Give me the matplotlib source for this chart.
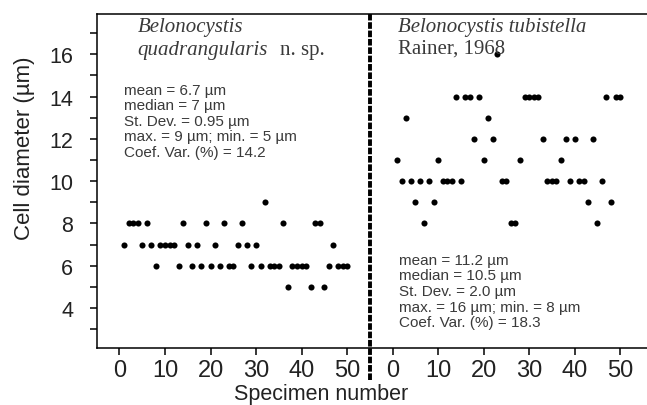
import numpy as np
import matplotlib.pyplot as plt
from matplotlib.ticker import MultipleLocator, FixedLocator

# specimen numbers 1..50 for both species
specimens = np.arange(1, 51)

# Belonocystis quadrangularis n. sp. (cell diameter, um)
quadrangularis = [7, 8, 8, 8, 7, 8, 7, 6, 7, 7,
                  7, 7, 6, 8, 7, 6, 7, 6, 8, 6,
                  7, 6, 8, 6, 6, 7, 8, 7, 6, 7,
                  6, 9, 6, 6, 6, 8, 5, 6, 6, 6,
                  6, 5, 8, 8, 5, 6, 7, 6, 6, 6]

# Belonocystis tubistella Rainer, 1968 (cell diameter, um)
tubistella = [11, 10, 13, 10, 9, 10, 8, 10, 9, 11,
              10, 10, 10, 14, 10, 14, 14, 12, 14, 11,
              13, 12, 16, 10, 10, 8, 8, 11, 14, 14,
              14, 14, 12, 10, 10, 10, 11, 12, 10, 12,
              10, 10, 9, 12, 8, 10, 14, 9, 14, 14]

x_ticks = [0, 10, 20, 30, 40, 50]
x_labels = ["0", "10", "20", "30", "40", "50"]
y_ticks = [4, 6, 8, 10, 12, 14, 16]

stats_left = ["mean = 6.7 µm", "median = 7 µm", "St. Dev. = 0.95 µm",
              "max. = 9 µm; min. = 5 µm", "Coef. Var. (%) = 14.2"]
stats_right = ["mean = 11.2 µm", "median = 10.5 µm", "St. Dev. = 2.0 µm",
               "max. = 16 µm; min. = 8 µm", "Coef. Var. (%) = 18.3"]

offset = 60  # second panel shifted along the same axis
text_col = "#3a3a3a"
sans = "Liberation Sans"
serif = "Liberation Serif"

fig = plt.figure(figsize=(6.47, 4.06), dpi=100)
ax = fig.add_axes([0.1495, 0.1397, 0.8505, 0.8233])

ax.plot(specimens, quadrangularis, "o", color="black", ms=4.4, mew=0)
ax.plot(specimens + offset, tubistella, "o", color="black", ms=4.4, mew=0)

ax.set_xlim(-5, 115.9)
ax.set_ylim(2.1, 17.9)

ax.xaxis.set_major_locator(FixedLocator(x_ticks + [t + offset for t in x_ticks]))
ax.set_xticklabels(x_labels + x_labels)
ax.yaxis.set_major_locator(FixedLocator(y_ticks))
ax.yaxis.set_minor_locator(MultipleLocator(1))
ax.tick_params(axis="both", which="both", direction="out", length=5, width=1.1,
               colors="black")
ax.tick_params(axis="x", which="minor", bottom=False)
ax.tick_params(axis="x", labelsize=17, pad=3)
ax.tick_params(axis="y", labelsize=15.5, pad=12)
for lab in ax.get_xticklabels() + ax.get_yticklabels():
    lab.set_fontfamily(sans)
    lab.set_color("#222222")

ax.spines["right"].set_visible(False)
for s in ["left", "top", "bottom"]:
    ax.spines[s].set_linewidth(1.1)

# dashed divider between the two species
ax.plot([55, 55], [-0.095, 1.0], transform=ax.get_xaxis_transform(),
        color="black", lw=2.8, dashes=(1.7, 0.45), clip_on=False)

ax.set_ylabel("Cell diameter (µm)", fontsize=16, family=sans, color="#222222")
ax.yaxis.label.set_va("center")
ax.yaxis.set_label_coords(-0.132, 0.6)
ax.set_xlabel("Specimen number", fontsize=15.5, family=sans, color="#222222")
ax.xaxis.label.set_va("center")
ax.xaxis.set_label_coords(0.407, -0.134)

# species names
ax.text(4, 17.3, "Belonocystis", family=serif, style="italic", fontsize=15,
        color=text_col, va="center")
ax.text(4, 16.2, "quadrangularis", family=serif, style="italic", fontsize=15,
        color=text_col, va="center")
ax.text(35.2, 16.2, "n. sp.", family=serif, fontsize=15, color=text_col,
        va="center")
ax.text(61.3, 17.3, "Belonocystis tubistella", family=serif, style="italic",
        fontsize=15, color=text_col, va="center")
ax.text(61.3, 16.3, "Rainer, 1968", family=serif, fontsize=15, color=text_col,
        va="center")

# summary statistics
for i, line in enumerate(stats_left):
    ax.text(0.9, 14.33 - 0.736 * i, line, family=sans, fontsize=11,
            color=text_col, va="center")
for i, line in enumerate(stats_right):
    ax.text(61.5, 6.28 - 0.736 * i, line, family=sans, fontsize=11,
            color=text_col, va="center")

fig.savefig("out.png", dpi=100)
